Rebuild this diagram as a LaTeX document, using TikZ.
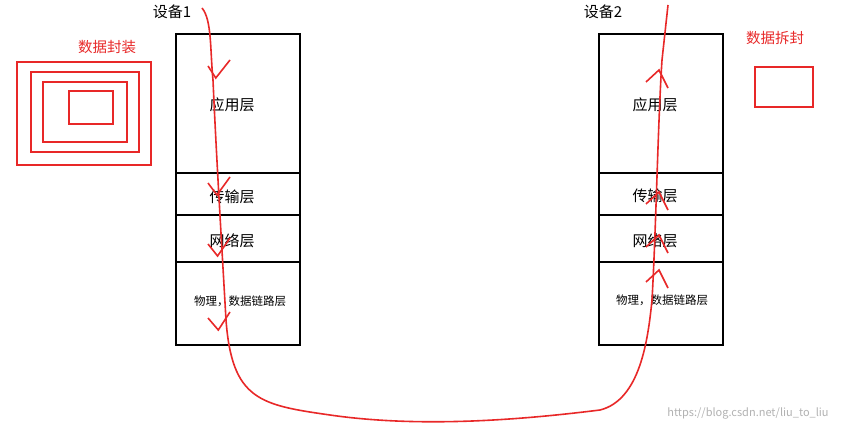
\documentclass[tikz,border=0pt]{standalone}
\usepackage{fontspec}
\setmainfont{Noto Sans CJK SC}
\definecolor{myred}{RGB}{232,40,40}
\begin{document}
\begin{tikzpicture}[x=1pt,y=-1pt,
  layer/.style={draw=black,line width=2pt},
  lbl/.style={font=\fontsize{15}{17}\selectfont},
  rl/.style={draw=myred,line width=1.6pt},
  redtxt/.style={font=\fontsize{14.5}{17}\selectfont,text=myred}]
\useasboundingbox[fill=white] (0,0) rectangle (861,435);
\foreach \x/\n in {176/L,599/R}{
  \draw[layer] (\x,34) rectangle ++(124,311);
  \draw[layer] (\x,173) -- ++(124,0);
  \draw[layer] (\x,215) -- ++(124,0);
  \draw[layer] (\x,262) -- ++(124,0);
}
\node[lbl] (l1) at (232,105) {应用层};
\node[lbl] (l2) at (232,197) {传输层};
\node[lbl] (l3) at (232,241) {网络层};
\node[font=\fontsize{11.5}{13}\selectfont] (l4) at (240,301) {物理，数据链路层};
\node[lbl] (r1) at (655,105) {应用层};
\node[lbl] (r2) at (655,196) {传输层};
\node[lbl] (r3) at (655,241) {网络层};
\node[font=\fontsize{11.5}{13}\selectfont] (r4) at (662,300) {物理，数据链路层};
\node[lbl] (d1) at (172,12) {设备1};
\node[lbl] (d2) at (603,12) {设备2};
\node[redtxt] (t1) at (107,47) {数据封装};
\node[redtxt] (t2) at (775,38) {数据拆封};
\draw[rl] (17,62) rectangle (151,165);
\draw[rl] (31,72) rectangle (139,152);
\draw[rl] (43,82) rectangle (127,142);
\draw[rl] (69,91) rectangle (113,124);
\draw[rl] (755,67) rectangle (813,107);
\draw[rl] (202,8) .. controls (212,20) and (210,50) .. (213,80)
  .. controls (216,150) and (222,250) .. (226,320)
  .. controls (232,400) and (260,405) .. (330,415)
  .. controls (420,428) and (520,420) .. (600,410)
  .. controls (640,400) and (648,340) .. (652,300)
  .. controls (656,230) and (658,120) .. (662,60)
  -- (668,5);
\foreach \y in {78,195,256,330}{
  \draw[rl] (208,\y-12) -- (215+\y/100,\y) -- (230,\y-18);
}
\foreach \y in {70,192,235,270}{
  \draw[rl] (646,\y+12) -- (659,\y) -- (668,\y+18);
}
\node[text=gray!60,font=\fontsize{11}{13}\selectfont] (wm) at (748,413) {https://blog.csdn.net/liu\_to\_liu};
\end{tikzpicture}
\end{document}
